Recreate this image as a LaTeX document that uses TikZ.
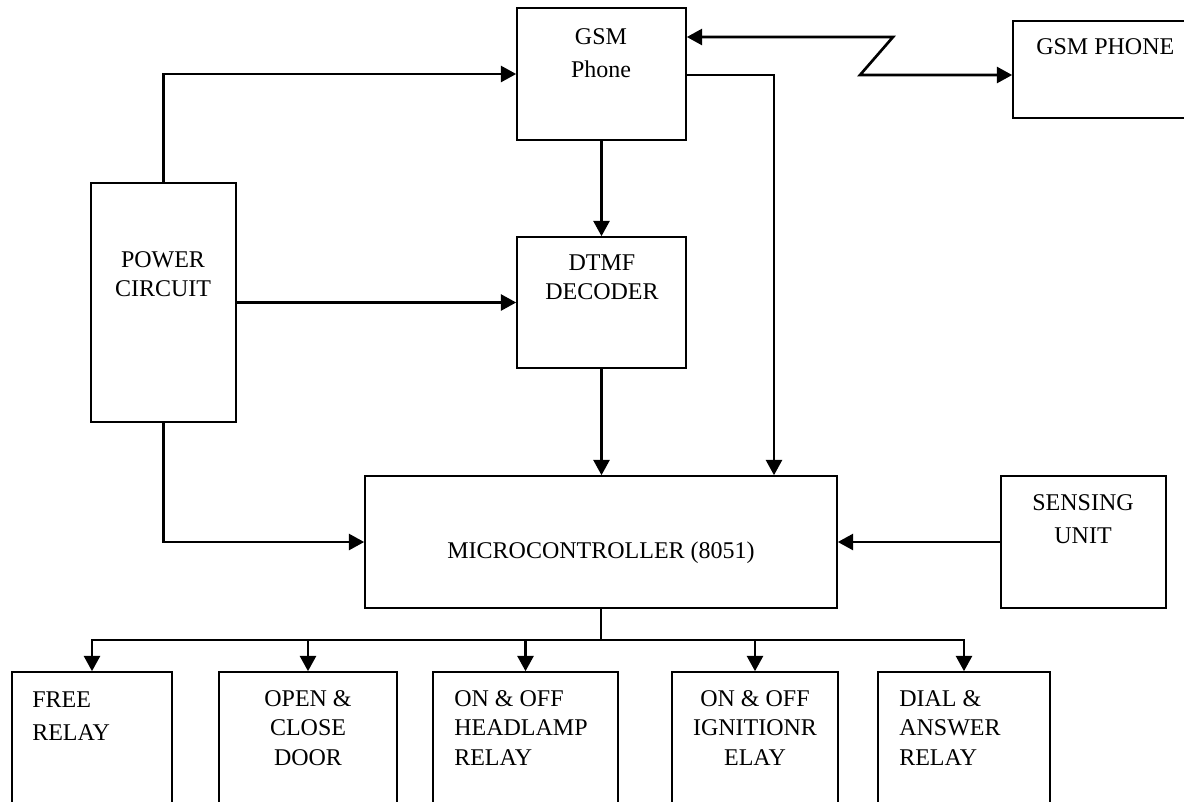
\documentclass[tikz,border=0pt]{standalone}
\usepackage{fontspec}
\setmainfont{Liberation Serif}
\usetikzlibrary{arrows.meta,fit}
\tikzset{
	blk/.style={draw, line width=1.2pt, inner sep=0pt},
	txt/.style={font=\fontsize{18}{22}\selectfont, align=center, inner sep=0pt},
	wire/.style={line width=2pt},
	arr/.style={wire, -{Triangle[length=11.5pt,width=12pt]}}
}
\begin{document}
\begin{tikzpicture}[x=0.75pt, y=-0.75pt]
	\useasboundingbox (0,0) rectangle (1184,801);
	\clip (0,0) rectangle (1184,801);
	% blocks
	\node[blk, fit={(517,8) (686,140)}] (gsm) {};
	\node[blk, fit={(1013,21) (1200,118)}] (phone) {};
	\node[blk, fit={(91,183) (236,422)}] (power) {};
	\node[blk, fit={(517,237) (686,368)}] (dtmf) {};
	\node[blk, fit={(365,476) (837,608)}] (micro) {};
	\node[blk, fit={(1001,476) (1166,608)}] (sense) {};
	\node[blk, fit={(12,672) (172,815)}] (free) {};
	\node[blk, fit={(219,672) (397,815)}] (door) {};
	\node[blk, fit={(433,672) (618,815)}] (head) {};
	\node[blk, fit={(672,672) (838,815)}] (ign) {};
	\node[blk, fit={(878,672) (1050,815)}] (dial) {};
	% labels
	\node[txt, font=\fontsize{18}{25}\selectfont] (gsmtxt) at (601,53) {GSM\\Phone};
	\node[txt, anchor=west] (phonetxt) at (1036,47) {GSM PHONE};
	\node[txt] (powertxt) at (163,274) {POWER\\CIRCUIT};
	\node[txt] (dtmftxt) at (602,277) {DTMF\\DECODER};
	\node[txt] (microtxt) at (601,553) {MICROCONTROLLER (8051)};
	\node[txt, font=\fontsize{18}{25}\selectfont] (sensetxt) at (1083,519) {SENSING\\UNIT};
	\node[txt, font=\fontsize{18}{25}\selectfont, align=left, anchor=west] (freetxt) at (32,716) {FREE\\RELAY};
	\node[txt] (doortxt) at (308,728) {OPEN \&\\CLOSE\\DOOR};
	\node[txt, align=left, anchor=west] (headtxt) at (454,728) {ON \& OFF\\HEADLAMP\\RELAY};
	\node[txt] (igntxt) at (755,728) {ON \& OFF\\IGNITIONR\\ELAY};
	\node[txt, align=left, anchor=west] (dialtxt) at (899,728) {DIAL \&\\ANSWER\\RELAY};
	% connectors
	\path[draw, arr] (power.north) |- (gsm.west);
	\path[draw, arr] (power.east) -- (dtmf.west);
	\path[draw, arr] (power.south) |- (micro.west);
	\path[draw, arr] (gsm.south) -- (dtmf.north);
	\path[draw, arr] (dtmf.south) -- (dtmf.south |- micro.north);
	\coordinate (tap) at (774,75);
	\path[draw, arr] (gsm.east |- tap) -| (tap |- micro.north);
	\path[draw, arr] (sense.west) -- (micro.east);
	% wireless link
	\coordinate (ztop) at (893,37);
	\coordinate (zbot) at (860,75);
	\path[draw, wire, {Triangle[length=11.5pt,width=12pt]}-{Triangle[length=11.5pt,width=12pt]}] (gsm.east |- ztop) -- (ztop) -- (zbot) -- (zbot -| phone.west);
	% outputs
	\coordinate (bus) at (0,640);
	\path[draw, wire] (micro.south) -- (micro.south |- bus);
	\foreach \b in {free,door,head,ign,dial}
		\path[draw, arr] (micro.south |- bus) -| (\b.north);
\end{tikzpicture}
\end{document}
